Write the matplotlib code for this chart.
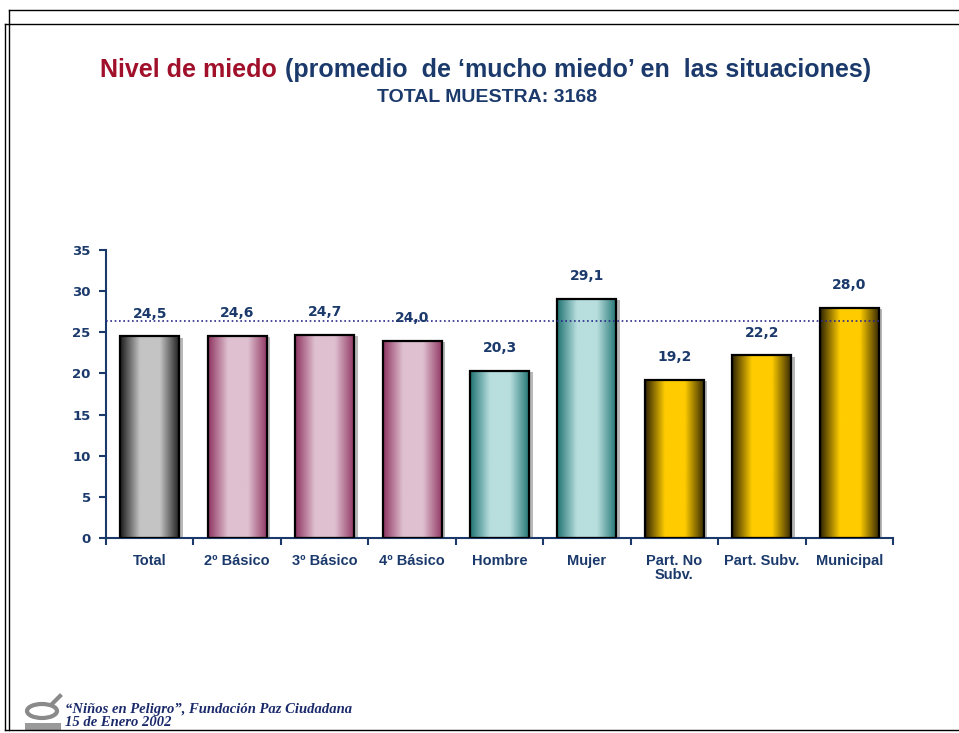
import matplotlib
matplotlib.use("Agg")
import matplotlib.pyplot as plt
import numpy as np
from matplotlib.patches import Rectangle, Ellipse
from matplotlib.colors import LinearSegmentedColormap
from matplotlib.lines import Line2D

categories = ["Total", "2º Básico", "3º Básico", "4º Básico", "Hombre", "Mujer",
              "Part. No\nSubv.", "Part. Subv.", "Municipal"]
values = [24.5, 24.6, 24.7, 24.0, 20.3, 29.1, 19.2, 22.2, 28.0]
value_labels = ["24,5", "24,6", "24,7", "24,0", "20,3", "29,1", "19,2", "22,2", "28,0"]
groups = ["gray", "pink", "pink", "pink", "teal", "teal", "gold", "gold", "gold"]
average_line = 26.4
yticks = [0, 5, 10, 15, 20, 25, 30, 35]

palettes = {
    "gray": ("#1a1a1a", "#c4c4c4"),
    "pink": ("#8e3360", "#dfc0d0"),
    "teal": ("#1f7272", "#b8dede"),
    "gold": ("#2e2300", "#ffcc00"),
}
NAVY = "#1b3a6b"
RED = "#a0102a"
TFONT = ["Liberation Sans", "DejaVu Sans"]

W, H = 959, 733
fig = plt.figure(figsize=(W/100, H/100), dpi=100)
ax = fig.add_axes([106/W, 1-538/H, (893-106)/W, (538-250)/H])

n = len(categories)
bw = 0.675
xs = np.arange(n) + 0.5
for i, (x, v, g) in enumerate(zip(xs, values, groups)):
    dark, light = palettes[g]
    cmap = LinearSegmentedColormap.from_list("c", [dark, light, light, dark], N=256)
    grad = np.linspace(0, 1, 256).reshape(1, -1)
    sh = Rectangle((x - bw/2 + 0.04, 0), bw, v - 0.15, facecolor="#b8b8b8", edgecolor="none", zorder=1)
    ax.add_patch(sh)
    im = ax.imshow(grad, cmap=cmap, aspect="auto",
                   extent=(x - bw/2, x + bw/2, 0, v), zorder=2, interpolation="bilinear")
    rect = Rectangle((x - bw/2, 0), bw, v, facecolor="none", edgecolor="black", linewidth=1.6, zorder=3)
    ax.add_patch(rect)
    im.set_clip_path(rect)
    ax.text(x, v + 1.9, value_labels[i], ha="center", va="bottom", fontsize=10,
            fontweight="bold", color=NAVY, zorder=5, family="DejaVu Sans")

ax.plot([0, n - 0.15], [average_line, average_line], linestyle=(0, (1, 1.6)), color="#2a2a8a",
        linewidth=1.2, zorder=4)

ax.set_xlim(0, n)
ax.set_ylim(0, 35)
for s in ["top", "right"]:
    ax.spines[s].set_visible(False)
for s in ["left", "bottom"]:
    ax.spines[s].set_color(NAVY)
    ax.spines[s].set_linewidth(1.5)
ax.set_yticks(yticks)
ax.set_yticklabels([str(t) for t in yticks], fontsize=9.5, fontweight="bold", color=NAVY)
ax.tick_params(axis="y", direction="out", length=5, width=1.5, color=NAVY, pad=6)
ax.set_xticks(np.arange(n + 1))
ax.set_xticklabels([])
ax.tick_params(axis="x", direction="out", length=5, width=1.5, color=NAVY)
for x, c in zip(xs, categories):
    ax.text(x, -1.9, c, ha="center", va="top", fontsize=10.5, fontweight="bold", color=NAVY,
            family=TFONT, linespacing=1.05)

# Title (two colors), fitted to reference width
fig.canvas.draw()
r = fig.canvas.get_renderer()
fs = 16
def draw_title(fs):
    t1 = fig.text(100/W, 1-70/H, "Nivel de miedo", color=RED, fontsize=fs, fontweight="bold",
                  family=TFONT, ha="left", va="center")
    bb = t1.get_window_extent(r)
    t2 = fig.text((bb.x1 + 8) / W, 1-70/H, "(promedio  de ‘mucho miedo’ en  las situaciones)",
                  color=NAVY, fontsize=fs, fontweight="bold", family=TFONT, ha="left", va="center")
    return t1, t2
t1, t2 = draw_title(fs)
wid = t2.get_window_extent(r).x1 - 100
t1.remove(); t2.remove()
fs = fs * (771 / wid)
draw_title(fs)
fig.text(487/W, 1-98/H, "TOTAL MUESTRA: 3168", color=NAVY, fontsize=14, fontweight="bold",
         family=TFONT, ha="center", va="center")

# Frame lines
def fl(x0, y0, x1, y1, lw=1.0, c="black"):
    fig.add_artist(Line2D([x0/W, x1/W], [1-y0/H, 1-y1/H], color=c, linewidth=lw))
fl(9, 10, 959, 10)
fl(9, 10, 9, 24)
fl(5, 24, 959, 24)
fl(5, 24, 5, 730)
fl(9, 24, 9, 730)
fl(5, 730, 959, 730)

# Footer logo (simple gray fish-like mark)
fig.add_artist(Ellipse((42/W, 1-711/H), 30/W, 14/H, fill=False, edgecolor="#8a8a8a", linewidth=3))
fig.add_artist(Line2D([52/W, 60/W], [1-704/H, 1-696/H], color="#8a8a8a", linewidth=3))
fig.add_artist(Rectangle((25/W, 1-731/H), 36/W, 8/H, facecolor="#9a9a9a", edgecolor="none"))

fig.text(65/W, 1-709/H, "“Niños en Peligro”, Fundación Paz Ciudadana", color="#1b2a6b",
         fontsize=10.5, fontstyle="italic", fontweight="bold", family="Liberation Serif",
         ha="left", va="center")
fig.text(65/W, 1-723/H, "15 de Enero 2002", color="#1b2a6b",
         fontsize=10.5, fontstyle="italic", fontweight="bold", family="Liberation Serif",
         ha="left", va="center")

fig.savefig("out.png", dpi=100)
